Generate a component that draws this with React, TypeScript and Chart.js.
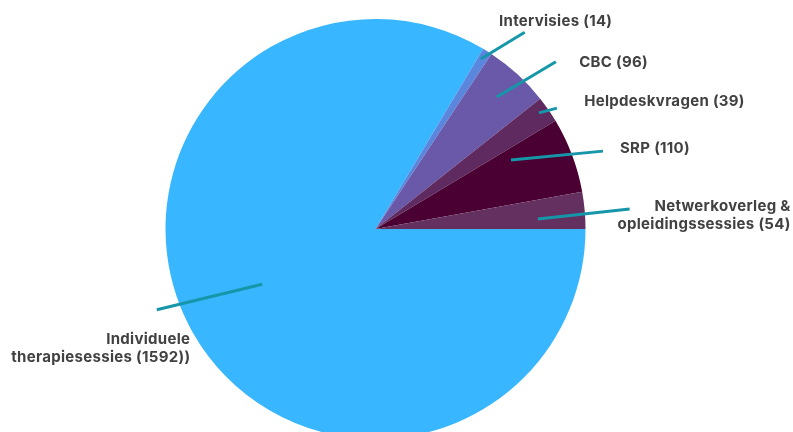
import React, { useEffect, useRef } from "react";
import { Chart, registerables } from "chart.js";

Chart.register(...registerables);

// ---- data ----
const categories = [
  "Individuele therapiesessies",
  "Intervisies",
  "CBC",
  "Helpdeskvragen",
  "SRP",
  "Netwerkoverleg & opleidingssessies",
];
const values = [1592, 14, 96, 39, 110, 54];
const labelLines = [
  ["Individuele", "therapiesessies (1592))"],
  ["Intervisies (14)"],
  ["CBC (96)"],
  ["Helpdeskvragen (39)"],
  ["SRP (110)"],
  ["Netwerkoverleg &", "opleidingssessies (54)"],
];
const colors = ["#38b6ff", "#5a86dd", "#6a58a8", "#5f2a5f", "#4a0032", "#63305f"];

// ---- label / leader-line layout (relative to each arc) ----
// sd/sr: start angle offset (deg) from slice middle and radius fraction
// ed/er: end angle offset and radius fraction; dx/dy: text offset from line end
const leaderLayout = [
  { sd: 3.6, sr: 0.6, ed: 9.3, er: 1.11, dx: 33.5, dy: 34, align: "right" },
  { sd: -0.4, sr: 0.952, ed: 5.0, er: 1.176, dx: -25.7, dy: -6, align: "left" },
  { sd: 0, sr: 0.854, ed: 4.6, er: 1.171, dx: 23.3, dy: 4.7, align: "left" },
  { sd: -0.7, sr: 0.955, ed: 1.0, er: 1.038, dx: 27.3, dy: -2, align: "left" },
  { sd: -6.4, sr: 0.724, ed: 1.7, er: 1.145, dx: 17, dy: 1.7, align: "left" },
  { sd: 1.6, sr: 0.775, ed: 0.6, er: 1.214, dx: 161, dy: 1.7, align: "right" },
];

const leaderPlugin = {
  id: "leaderLabels",
  afterDatasetsDraw(chart: any) {
    const ctx = chart.ctx;
    const meta = chart.getDatasetMeta(0);
    meta.data.forEach((arc: any, i: number) => {
      const p = arc.getProps(["x", "y", "startAngle", "endAngle", "outerRadius"], true);
      const mid = (p.startAngle + p.endAngle) / 2;
      const L = leaderLayout[i];
      const a1 = mid + (L.sd * Math.PI) / 180;
      const a2 = mid + (L.ed * Math.PI) / 180;
      const x1 = p.x + Math.cos(a1) * p.outerRadius * L.sr;
      const y1 = p.y + Math.sin(a1) * p.outerRadius * L.sr;
      const x2 = p.x + Math.cos(a2) * p.outerRadius * L.er;
      const y2 = p.y + Math.sin(a2) * p.outerRadius * L.er;
      ctx.save();
      ctx.strokeStyle = "#1597a9";
      ctx.lineWidth = 3;
      ctx.beginPath();
      ctx.moveTo(x1, y1);
      ctx.lineTo(x2, y2);
      ctx.stroke();
      ctx.fillStyle = "#414141";
      ctx.font = "700 15px Inter, 'Noto Sans', sans-serif";
      (ctx as any).letterSpacing = "0.3px";
      ctx.textAlign = L.align;
      ctx.textBaseline = "alphabetic";
      labelLines[i].forEach((line, k) => {
        ctx.fillText(line, x2 + L.dx, y2 + L.dy + k * 18);
      });
      ctx.restore();
    });
  },
};

export default function App() {
  const ref = useRef<HTMLCanvasElement | null>(null);
  useEffect(() => {
    if (!ref.current) return;
    const chart = new Chart(ref.current, {
      type: "pie",
      data: {
        labels: categories,
        datasets: [
          {
            data: values,
            backgroundColor: colors,
            borderWidth: 0,
          },
        ],
      },
      options: {
        responsive: false,
        animation: false,
        rotation: 90,
        layout: { padding: { top: 19, bottom: 19, left: 0, right: 42 } },
        plugins: {
          legend: { display: false },
          tooltip: { enabled: false },
        },
      },
      plugins: [leaderPlugin],
    } as any);
    return () => chart.destroy();
  }, []);
  return (
    <div
      style={{
        position: "absolute",
        left: 0,
        top: 0,
        width: 793,
        height: 432,
        overflow: "hidden",
        background: "#fff",
      }}
    >
      <canvas ref={ref} width={793} height={458} style={{ display: "block" }} />
    </div>
  );
}
